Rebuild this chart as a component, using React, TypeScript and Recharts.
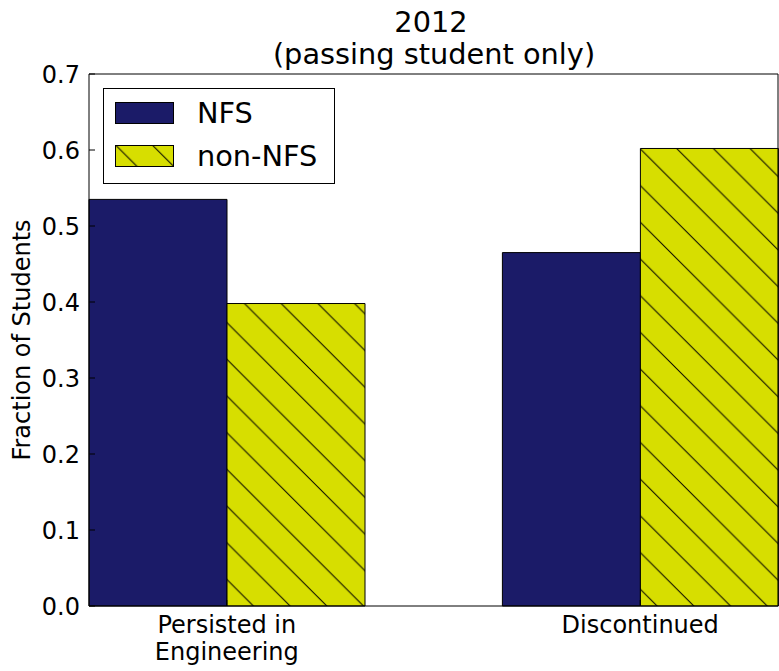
import React from 'react';
import { BarChart, Bar, XAxis, YAxis } from 'recharts';

const categories = ['Persisted in\nEngineering', 'Discontinued'];
const seriesNames = ['NFS', 'non-NFS'];
const nfsValues = [0.535, 0.465];
const nonNfsValues = [0.398, 0.602];
const yTicks = [0, 0.1, 0.2, 0.3, 0.4, 0.5, 0.6, 0.7];
const titleLines = ['2012', '(passing student only)'];

const data = categories.map((name, i) => ({
  name,
  nfs: nfsValues[i],
  nonNfs: nonNfsValues[i],
}));

const FONT = '"DejaVu Sans", sans-serif';
const NAVY = '#1b1b68';
const YELLOW = '#d7de00';
const HATCH = 36.7;
const LARGE = 28.8;
// bands are widened so each bar pair sits at 1/5 and 4/5 of the plot
const xPad = { left: -68.9, right: -68.9 };

function hatchPattern(id: string, shift: number) {
  const p = HATCH;
  return (
    <pattern
      id={id}
      patternUnits="userSpaceOnUse"
      width={p}
      height={p}
      patternTransform={`translate(${shift},0)`}
    >
      <rect width={p} height={p} fill={YELLOW} />
      <path
        d={`M0,0L${p},${p}M-1,${p - 1}L1,${p + 1}M${p - 1},-1L${p + 1},1`}
        stroke="#000"
        strokeWidth={1}
      />
    </pattern>
  );
}

function CategoryTick({ x, y, payload }: any) {
  const lines = String(payload.value).split('\n');
  return (
    <text x={x} y={y} textAnchor="middle" fontFamily={FONT} fontSize={24} fill="#000">
      {lines.map((line, i) => (
        <tspan key={i} x={x} dy={i === 0 ? '0.76em' : 27}>
          {line}
        </tspan>
      ))}
    </text>
  );
}

function YLabel({ viewBox }: any) {
  const cy = viewBox ? viewBox.y + viewBox.height / 2 : 340;
  return (
    <text
      x={22}
      y={cy}
      transform={`rotate(-90, 22, ${cy})`}
      textAnchor="middle"
      dominantBaseline="central"
      fontFamily={FONT}
      fontSize={24}
      fill="#000"
    >
      Fraction of Students
    </text>
  );
}

export default function App() {
  return (
    <div style={{ position: 'absolute', left: 0, top: 0, width: 779, height: 671, background: '#fff' }}>
      <BarChart
        width={779}
        height={671}
        data={data}
        margin={{ top: 73, right: 0, bottom: 5, left: 0 }}
        barGap={0}
        barCategoryGap={68.9}
      >
        <defs>{hatchPattern('hatchBar', 14.4)}</defs>
        <XAxis
          dataKey="name"
          height={60}
          padding={xPad}
          interval={0}
          stroke="#000"
          tickSize={-6}
          tickMargin={15}
          tick={<CategoryTick />}
        />
        <XAxis
          xAxisId="top"
          orientation="top"
          dataKey="name"
          height={1}
          padding={xPad}
          stroke="#000"
          tickSize={-6}
          tick={false}
        />
        <YAxis
          width={89}
          domain={[0, 0.7]}
          ticks={yTicks}
          interval={0}
          stroke="#000"
          tickSize={-6}
          tickMargin={15}
          tickFormatter={(v: number) => v.toFixed(1)}
          tick={{ fill: '#000', fontSize: 24, fontFamily: FONT }}
          label={{ content: <YLabel /> }}
        />
        <YAxis
          yAxisId="right"
          orientation="right"
          width={1}
          domain={[0, 0.7]}
          ticks={yTicks}
          interval={0}
          stroke="#000"
          tickSize={-6}
          tick={false}
        />
        <Bar
          dataKey="nfs"
          name={seriesNames[0]}
          fill={NAVY}
          stroke="#000"
          strokeWidth={1}
          isAnimationActive={false}
        />
        <Bar
          dataKey="nonNfs"
          name={seriesNames[1]}
          fill="url(#hatchBar)"
          stroke="#000"
          strokeWidth={1}
          isAnimationActive={false}
        />
      </BarChart>

      <svg
        width={779}
        height={671}
        style={{ position: 'absolute', left: 0, top: 0, pointerEvents: 'none' }}
        fontFamily={FONT}
      >
        <defs>{hatchPattern('hatchLegend', 7.3)}</defs>
        <text x={431} y={32} textAnchor="middle" fontSize={LARGE} fill="#000">
          {titleLines[0]}
        </text>
        <text x={434} y={64} textAnchor="middle" fontSize={LARGE} fill="#000">
          {titleLines[1]}
        </text>

        <rect x={103.5} y={88.5} width={231} height={95} fill="#fff" stroke="#000" />
        <rect x={115.5} y={102.5} width={58} height={21} fill={NAVY} stroke="#000" />
        <rect x={115.5} y={145.5} width={58} height={21} fill="url(#hatchLegend)" stroke="#000" />
        <text x={197} y={113} dominantBaseline="central" fontSize={LARGE} fill="#000">
          {seriesNames[0]}
        </text>
        <text x={197} y={156} dominantBaseline="central" fontSize={LARGE} fill="#000">
          {seriesNames[1]}
        </text>
      </svg>
    </div>
  );
}
